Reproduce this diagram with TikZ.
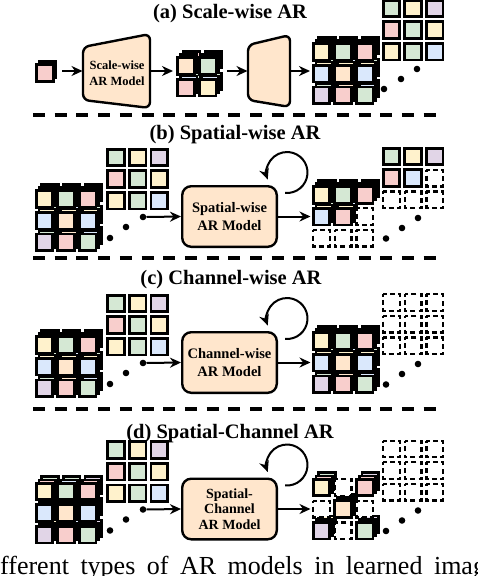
\documentclass[tikz,border=0pt]{standalone}
\usepackage{fontspec}
\setmainfont{Liberation Serif}
\usetikzlibrary{arrows.meta,calc}
\definecolor{cG}{HTML}{D5E8D4}
\definecolor{cY}{HTML}{FFF2CC}
\definecolor{cP}{HTML}{E1D5E7}
\definecolor{cR}{HTML}{F8CECC}
\definecolor{cB}{HTML}{DAE8FC}
\definecolor{cO}{HTML}{FFE6CC}
\tikzset{
  cell/.style={draw=black, line width=2.7pt},
  fG/.style={fill=cG}, fY/.style={fill=cY}, fP/.style={fill=cP},
  fR/.style={fill=cR}, fB/.style={fill=cB}, fO/.style={fill=cO},
  fD/.style={fill=white, line width=2.3pt, dash pattern=on 5pt off 3.2pt, dash phase=2.5pt},
  fN/.style={draw=none},
  arr/.style={line width=2pt, -{Stealth[length=11pt,width=10pt]}},
  model/.style={draw=black, line width=2.4pt, fill=cO, rounded corners=9pt,
    minimum width=94.6pt, minimum height=60.6pt, inner sep=0pt, align=center,
    font=\fontsize{14.5}{18.5}\selectfont\bfseries},
  modelthree/.style={model, font=\fontsize{14}{15.5}\selectfont\bfseries},
  trap/.style={draw=black, line width=2.4pt, fill=cO, rounded corners=6pt, line join=round},
  trapfont/.style={align=center, inner sep=0pt, font=\fontsize{12.5}{16.5}\selectfont\bfseries},
  dot/.style={circle, fill=black, inner sep=0pt, minimum size=6.6pt},
  sep/.style={line width=3.2pt, dash pattern=on 12pt off 9.7pt},
  title/.style={anchor=base, inner sep=0pt, font=\fontsize{20.5}{24}\selectfont\bfseries},
}
\newcommand\cpitch{21.6}
\newcommand\cellhalf{8.3}
% #1 x0, #2 y0, #3 list i/j/front/mid/back
\newcommand\cubeat[3]{%
  \foreach \ci/\cj/\cf/\cm/\cb in #3 {%
    \edef\cellcmd{\noexpand\path[cell,\cb]}%
    \cellcmd ({#1+\ci*\cpitch+5.6-\cellhalf},{#2+\cj*\cpitch-6.4-\cellhalf}) rectangle ++({2*\cellhalf},{2*\cellhalf});}
  \foreach \ci/\cj/\cf/\cm/\cb in #3 {%
    \edef\cellcmd{\noexpand\path[cell,\cm]}%
    \cellcmd ({#1+\ci*\cpitch+2.8-\cellhalf},{#2+\cj*\cpitch-3.2-\cellhalf}) rectangle ++({2*\cellhalf},{2*\cellhalf});}
  \foreach \ci/\cj/\cf/\cm/\cb in #3 {%
    \edef\cellcmd{\noexpand\path[cell,\cf]}%
    \cellcmd ({#1+\ci*\cpitch-\cellhalf},{#2+\cj*\cpitch-\cellhalf}) rectangle ++({2*\cellhalf},{2*\cellhalf});}
}
\newcommand\leftlist{0/0/fY/fR/fG,1/0/fG/fB/fG,2/0/fR/fR/fP,0/1/fB/fY/fG,1/1/fO/fY/fB,2/1/fB/fY/fG,0/2/fP/fG/fY,1/2/fR/fO/fB,2/2/fG/fB/fP}
\newcommand\flatlist{0/0/fG/fN/fN,1/0/fY/fN/fN,2/0/fP/fN/fN,0/1/fR/fN/fN,1/1/fG/fN/fN,2/1/fY/fN/fN,0/2/fY/fN/fN,1/2/fG/fN/fN,2/2/fB/fN/fN}
\newcommand\dashlist{0/0/fD/fN/fN,1/0/fD/fN/fN,2/0/fD/fN/fN,0/1/fD/fN/fN,1/1/fD/fN/fN,2/1/fD/fN/fN,0/2/fD/fN/fN,1/2/fD/fN/fN,2/2/fD/fN/fN}
\newcommand\outblist{0/0/fY/fR/fG,1/0/fG/fB/fG,2/0/fR/fR/fP,0/1/fB/fY/fG,1/1/fR/fY/fB,2/1/fD/fN/fN,0/2/fD/fN/fN,1/2/fD/fN/fN,2/2/fD/fN/fN}
\newcommand\rightblist{0/0/fG/fN/fN,1/0/fY/fN/fN,2/0/fP/fN/fN,0/1/fR/fN/fN,1/1/fB/fN/fN,2/1/fD/fN/fN,0/2/fD/fN/fN,1/2/fD/fN/fN,2/2/fD/fN/fN}
\newcommand\outdlist{0/0/fY/fR/fG,1/0/fD/fN/fN,2/0/fR/fR/fP,0/1/fD/fN/fN,1/1/fO/fY/fB,2/1/fD/fN/fN,0/2/fP/fG/fY,1/2/fD/fN/fN,2/2/fG/fB/fP}
\newcommand\twolist{0/0/fO/fR/fR,1/0/fG/fB/fB,0/1/fR/fB/fG,1/1/fY/fB/fG}
\newcommand\onelist{0/0/fR/fG/fN}
% #1 Y, #2 prefix, #3 model node, #4 out cube list, #5 right grid list
\newcommand\secparts[5]{%
  \cubeat{44.5}{#1-17.5}{\leftlist}
  \cubeat{116}{#1-59}{\flatlist}
  \node[dot] (#2l1) at (110,{#1+21.5}) {};
  \node[dot] (#2l2) at (126,{#1+10.5}) {};
  \node[dot] (#2l3) at (143,{#1+0.5}) {};
  #3
  \draw[arr] (#2l3.east) -- (#2m.west);
  \coordinate (#2c) at (287,{#1-44});
  \draw[arr] ($(#2c)+(95:20.5)$) arc[start angle=95,end angle=-200,radius=20.5];
  \coordinate (#2o) at (310.5,#1);
  \draw[arr] (#2m.east) -- (#2o);
  \cubeat{321.5}{#1-21.5}{#4}
  \cubeat{391.5}{#1-60}{#5}
  \node[dot] (#2r1) at (386,{#1+22}) {};
  \node[dot] (#2r2) at (402,{#1+11.5}) {};
  \node[dot] (#2r3) at (418,{#1+1.5}) {};
}
\begin{document}
\begin{tikzpicture}[x=1pt,y=-1pt]
\useasboundingbox (0,0) rectangle (478,576);
% titles
\node[title] (ta) at (230,18.3) {(a) Scale-wise AR};
\node[title] (tb) at (235,139.5) {(b) Spatial-wise AR};
\node[title] (tc) at (231,284.5) {(c) Channel-wise AR};
\node[title] (td) at (230,438.5) {(d) Spatial-Channel AR};
% separators
\draw[sep] (33,115) -- (445,115);
\draw[sep] (33,258) -- (445,258);
\draw[sep] (33,409) -- (445,409);
% ---- (a) scale-wise
\cubeat{45}{73}{\onelist}
\coordinate (s0) at (62,71);
\draw[trap] (83,47) -- (150,34) -- (150,108) -- (83,100) -- cycle;
\node[trapfont] (t1) at (117,73) {Scale-wise\\AR Model};
\coordinate (t1w) at (82.5,71);
\coordinate (t1e) at (151.2,71);
\draw[arr] (s0) -- (t1w);
\cubeat{186}{66}{\twolist}
\coordinate (q2w) at (173,71);
\coordinate (q2e) at (227,71);
\draw[arr] (t1e) -- (q2w);
\draw[trap] (248,45) -- (290,35) -- (290,107) -- (248,100) -- cycle;
\coordinate (t2w) at (247.5,71);
\coordinate (t2e) at (291.2,71);
\draw[arr] (q2e) -- (t2w);
\coordinate (q3w) at (310,71);
\draw[arr] (t2e) -- (q3w);
\cubeat{321.5}{52}{\leftlist}
\cubeat{391.5}{8.5}{\flatlist}
\node[dot] (ad1) at (384,89) {};
\node[dot] (ad2) at (401,79) {};
\node[dot] (ad3) at (417,69) {};
% ---- (b), (c), (d)
\secparts{216.5}{b}{\node[model] (bm) at (229.5,216.5) {Spatial-wise\\AR Model};}{\outblist}{\rightblist}
\secparts{362.5}{c}{\node[model] (cm) at (229.5,362.5) {Channel-wise\\AR Model};}{\leftlist}{\dashlist}
\secparts{509}{d}{\node[modelthree] (dm) at (229.5,509) {Spatial-\\Channel\\AR Model};}{\outdlist}{\dashlist}
% caption fragment
\node[anchor=base west, inner sep=0pt, font=\fontsize{26}{30}\selectfont] (cap) at (0,574) {\spaceskip=11.5pt fferent types of AR models in learned imag};
\end{tikzpicture}
\end{document}
